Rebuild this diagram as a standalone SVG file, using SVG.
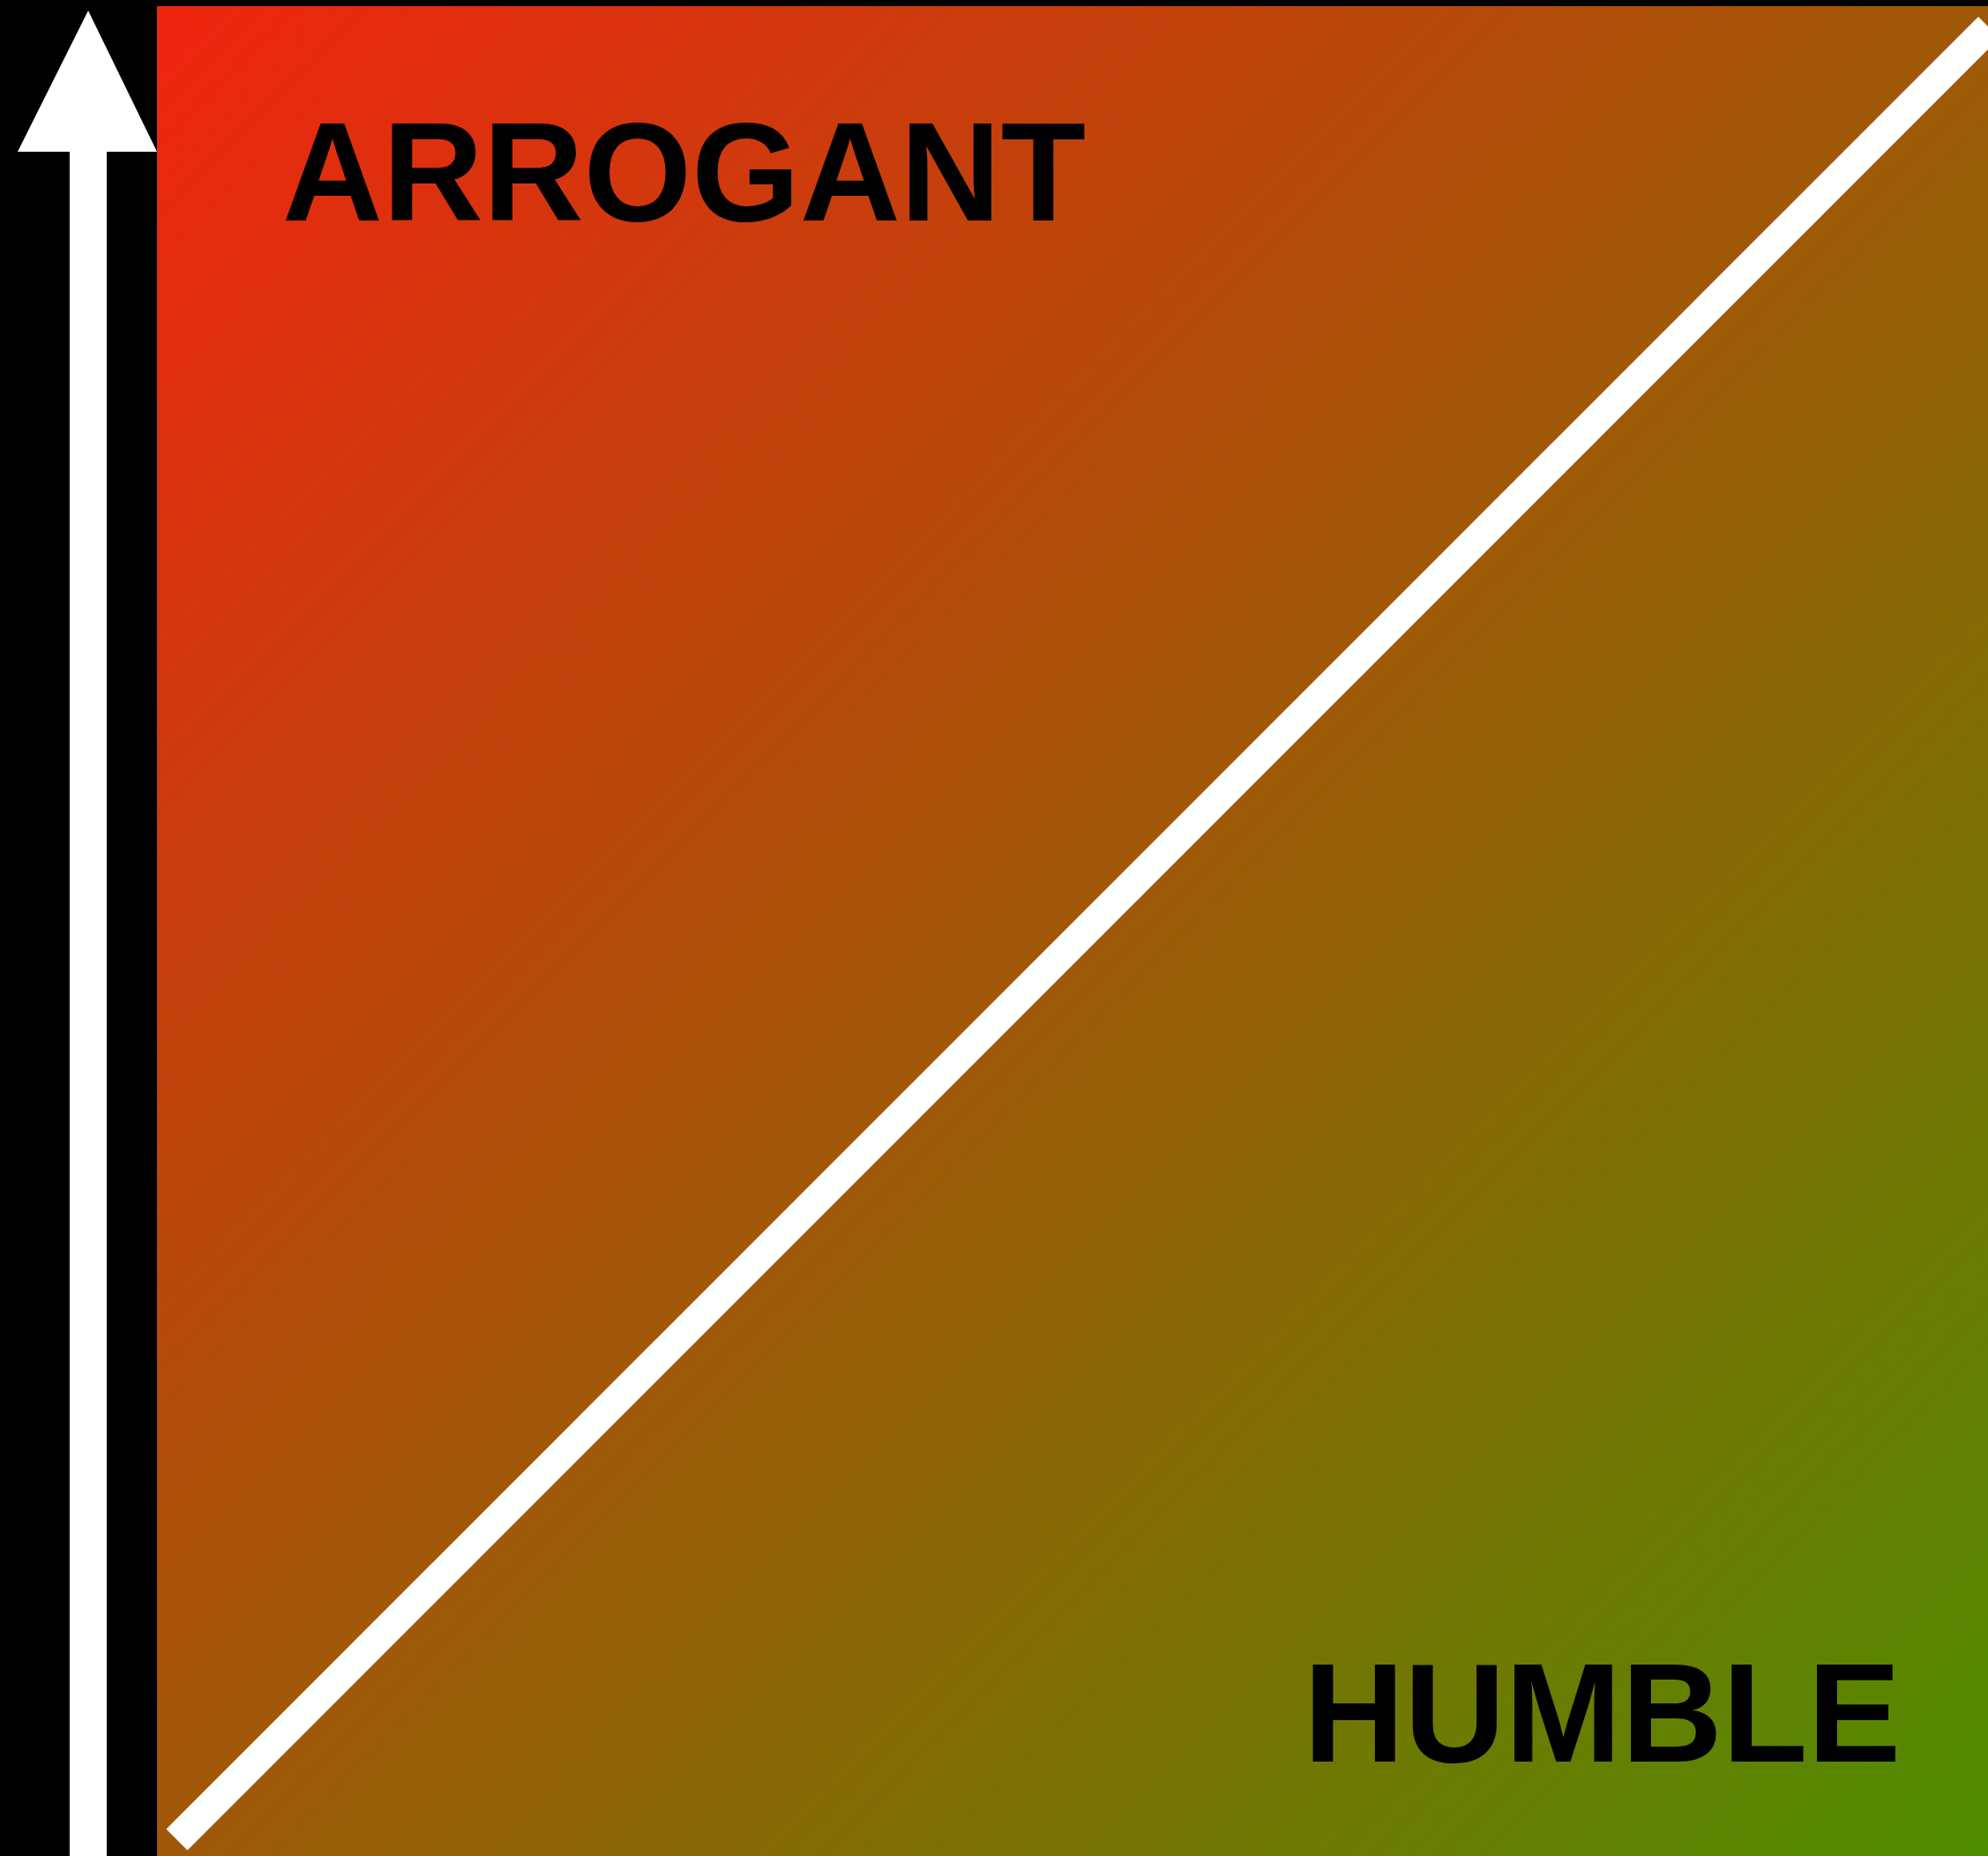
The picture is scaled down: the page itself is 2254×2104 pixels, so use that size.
<svg xmlns="http://www.w3.org/2000/svg" width="2254" height="2104" viewBox="0 0 2254 2104">
<defs>
<linearGradient id="bg" x1="0" y1="0" x2="1" y2="1">
<stop offset="0" stop-color="#f02410"/>
<stop offset="1" stop-color="#4f8d00"/>
</linearGradient>
<clipPath id="clip"><rect x="178" y="7" width="2076" height="2097"/></clipPath>
</defs>
<style>
.lbl{font-family:"Liberation Sans",Arial,Helvetica,sans-serif;font-weight:bold;font-size:160px;fill:#000}
</style>
<rect x="0" y="0" width="2254" height="2104" fill="#000"/>
<g id="field">
<rect x="178" y="7" width="2076" height="2097" fill="url(#bg)"/>
</g>
<g id="axis">
<polygon points="100,12 178,172 20,172" fill="#fff"/>
<rect x="79" y="171" width="42" height="1933" fill="#fff"/>
</g>
<g id="connectors">
<line x1="200.5" y1="2085.5" x2="2255" y2="31" stroke="#fff" stroke-width="34" clip-path="url(#clip)"/>
</g>
<g id="arrogant">
<text class="lbl" x="320" y="250" textLength="911" lengthAdjust="spacingAndGlyphs">ARROGANT</text>
</g>
<g id="humble">
<text class="lbl" x="1478" y="1997" textLength="677" lengthAdjust="spacingAndGlyphs">HUMBLE</text>
</g>
</svg>
